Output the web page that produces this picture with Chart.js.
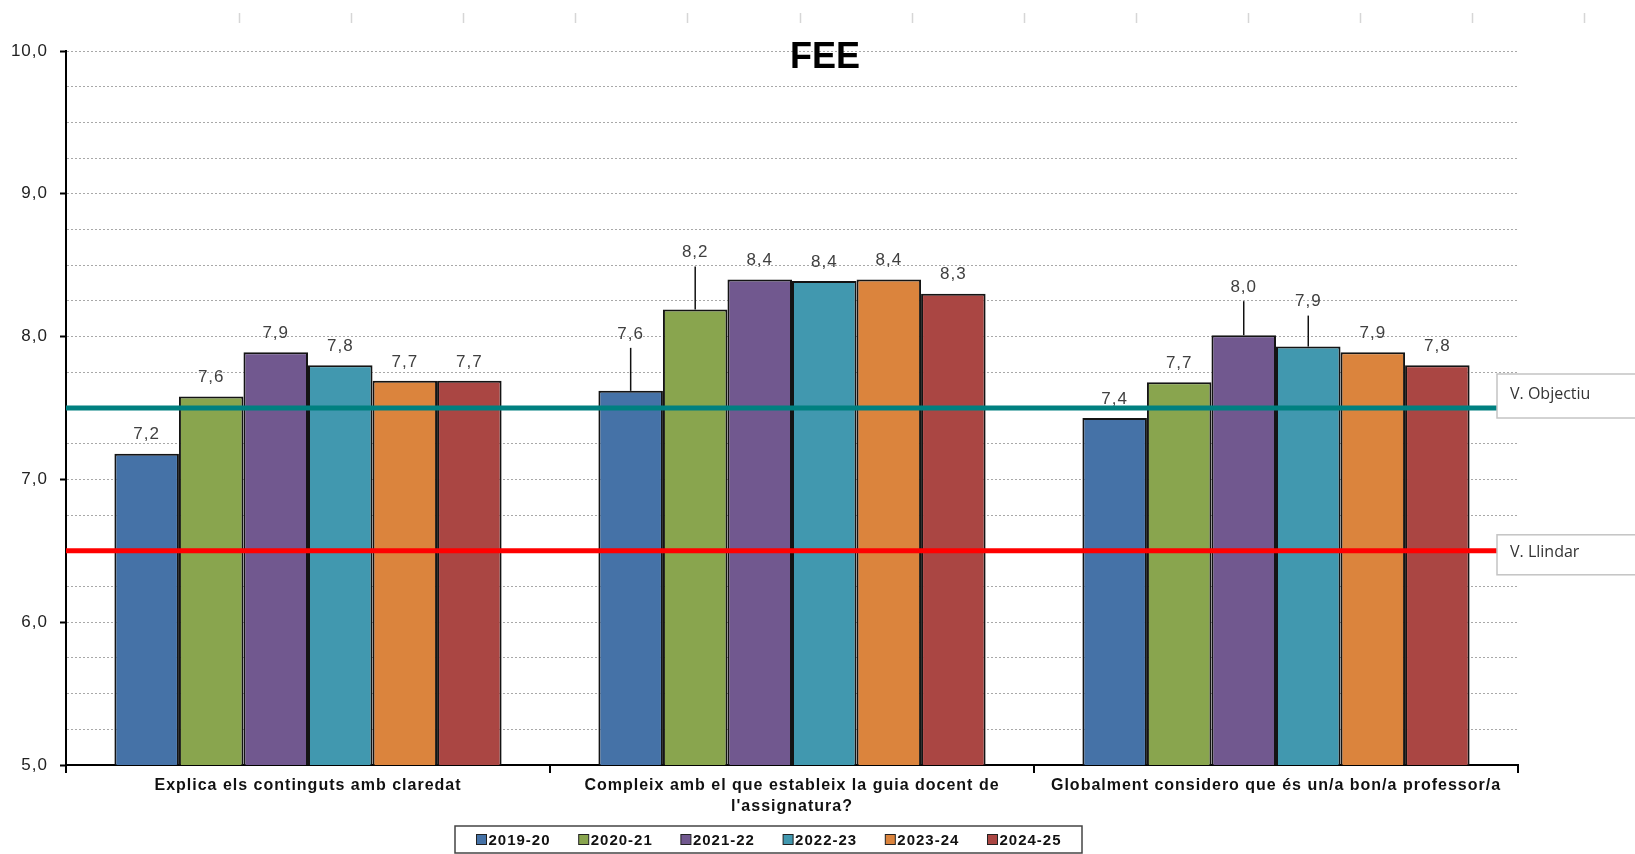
<!DOCTYPE html>
<html lang="ca">
<head>
<meta charset="utf-8">
<title>FEE</title>
<script src="https://cdn.jsdelivr.net/npm/chart.js@4.4.1/dist/chart.umd.min.js"></script>
<style>
  html, body { margin: 0; padding: 0; background: #fff; }
  #wrap { position: relative; width: 1635px; height: 854px; }
</style>
</head>
<body>
<div id="wrap"><canvas id="feeChart"></canvas></div>
<script>
// Data
const categories = [
  'Explica els continguts amb claredat',
  ['Compleix amb el que estableix la guia docent de', "l'assignatura?"],
  'Globalment considero que és un/a bon/a professor/a'
];
const seasons = ['2019-20', '2020-21', '2021-22', '2022-23', '2023-24', '2024-25'];
const values2019 = [7.18, 7.62, 7.43];
const values2020 = [7.58, 8.19, 7.68];
const values2021 = [7.89, 8.40, 8.01];
const values2022 = [7.80, 8.39, 7.93];
const values2023 = [7.69, 8.40, 7.89];
const values2024 = [7.69, 8.30, 7.80];
const seasonColors = ['#4572A7', '#89A54E', '#71588F', '#4198AF', '#DB843D', '#AA4643'];

const refNames = ['V. Objectiu', 'V. Llindar'];
const refValues = [7.5, 6.5];
const refColors = ['#008080', '#FF0000'];

const yMin = 5;
const yMax = 10;

const FONT = '"Liberation Sans", Arial, sans-serif';

function formatValue(v) {
  return v.toFixed(1).replace('.', ',');
}

// Labels lifted above the bar with a leader line (dataset-index: lift in px)
const leaderLifts = { '0-1': 57, '1-1': 57, '2-2': 48, '3-2': 45 };

const decorPlugin = {
  id: 'decor',
  beforeDraw(chart) {
    const ctx = chart.ctx;
    ctx.letterSpacing = '1px';
    // faint spreadsheet column marks along the top
    ctx.save();
    ctx.strokeStyle = '#d6d6d6';
    ctx.lineWidth = 1.5;
    for (let x = 239; x < chart.width; x += 112.1) {
      ctx.beginPath();
      ctx.moveTo(Math.round(x) + 0.5, 13);
      ctx.lineTo(Math.round(x) + 0.5, 23);
      ctx.stroke();
    }
    ctx.restore();
  },
  afterDatasetsDraw(chart) {
    const ctx = chart.ctx;
    const area = chart.chartArea;
    const yScale = chart.scales.y;

    // value labels
    ctx.save();
    ctx.font = '17px ' + FONT;
    ctx.fillStyle = '#404040';
    ctx.textAlign = 'center';
    ctx.textBaseline = 'middle';
    chart.data.datasets.forEach((ds, di) => {
      const meta = chart.getDatasetMeta(di);
      meta.data.forEach((bar, i) => {
        const lift = leaderLifts[di + '-' + i];
        if (lift) {
          const ty = bar.y - lift;
          ctx.strokeStyle = '#111';
          ctx.lineWidth = 1.5;
          ctx.beginPath();
          ctx.moveTo(bar.x, ty + 14);
          ctx.lineTo(bar.x, bar.y);
          ctx.stroke();
          ctx.fillText(formatValue(ds.data[i]), bar.x, ty);
        } else {
          ctx.fillText(formatValue(ds.data[i]), bar.x, bar.y - 19);
        }
      });
    });
    ctx.restore();

    // reference lines and their boxes
    const boxLeft = area.right - 21;
    const boxShift = [-34, -16];
    const boxHeight = [44, 40];
    ctx.save();
    refValues.forEach((v, k) => {
      const y = yScale.getPixelForValue(v);
      ctx.strokeStyle = refColors[k];
      ctx.lineWidth = 5;
      ctx.beginPath();
      ctx.moveTo(area.left, y);
      ctx.lineTo(boxLeft, y);
      ctx.stroke();

      const top = y + boxShift[k];
      ctx.fillStyle = '#fff';
      ctx.fillRect(boxLeft, top, 200, boxHeight[k]);
      ctx.strokeStyle = '#c4c4c4';
      ctx.lineWidth = 1.5;
      ctx.strokeRect(boxLeft, top, 200, boxHeight[k]);
      ctx.letterSpacing = '0px';
      ctx.font = '16px "Open Sans", "Noto Sans", sans-serif';
      ctx.fillStyle = '#333';
      ctx.textAlign = 'left';
      ctx.textBaseline = 'middle';
      ctx.fillText(refNames[k], boxLeft + 13, top + boxHeight[k] / 2 - 2);
    });
    ctx.restore();
  },
  afterDraw(chart) {
    const ctx = chart.ctx;
    // title
    ctx.save();
    ctx.letterSpacing = '0px';
    ctx.font = 'bold 36px ' + FONT;
    ctx.fillStyle = '#000';
    ctx.textAlign = 'center';
    ctx.textBaseline = 'middle';
    ctx.fillText('FEE', 825, 58);
    ctx.restore();

    // legend
    const lg = { left: 455, top: 826, width: 627, height: 27, first: 476.5, step: 102.2 };
    const cy = lg.top + lg.height / 2;
    ctx.save();
    ctx.fillStyle = '#fff';
    ctx.fillRect(lg.left, lg.top, lg.width, lg.height);
    ctx.strokeStyle = '#444';
    ctx.lineWidth = 1.5;
    ctx.strokeRect(lg.left, lg.top, lg.width, lg.height);
    ctx.font = 'bold 15px ' + FONT;
    ctx.textAlign = 'left';
    ctx.textBaseline = 'middle';
    ctx.letterSpacing = '1px';
    chart.data.datasets.forEach((ds, i) => {
      const x = lg.first + i * lg.step;
      ctx.fillStyle = ds.backgroundColor;
      ctx.fillRect(x, cy - 5, 10, 10);
      ctx.strokeStyle = '#222';
      ctx.lineWidth = 1;
      ctx.strokeRect(x, cy - 5, 10, 10);
      ctx.fillStyle = '#111';
      ctx.fillText(ds.label, x + 12, cy + 1);
    });
    ctx.restore();
  }
};

const seriesValues = [values2019, values2020, values2021, values2022, values2023, values2024];

const ctx = document.getElementById('feeChart').getContext('2d');
new Chart(ctx, {
  type: 'bar',
  data: {
    labels: categories,
    datasets: seasons.map((s, i) => ({
      label: s,
      data: seriesValues[i],
      backgroundColor: seasonColors[i],
      borderColor: '#141414',
      borderWidth: 2,
      categoryPercentage: 0.8,
      barPercentage: 1.0
    }))
  },
  options: {
    responsive: true,
    maintainAspectRatio: false,
    animation: false,
    layout: {
      padding: { top: 51, right: 117, bottom: 0, left: 0 }
    },
    plugins: {
      legend: { display: false },
      title: { display: false },
      tooltip: { enabled: false }
    },
    scales: {
      x: {
        grid: {
          display: true,
          drawOnChartArea: false,
          color: '#000',
          lineWidth: 2,
          tickLength: 8
        },
        border: { color: '#000', width: 2 },
        ticks: {
          color: '#111',
          padding: 2,
          maxRotation: 0,
          autoSkip: false,
          font: { family: FONT, size: 16, weight: 'bold', lineHeight: 1.3 }
        },
        afterFit(scale) { scale.height = 89; }
      },
      y: {
        min: yMin,
        max: yMax,
        grid: {
          color: '#a8a8a8',
          lineWidth: 1,
          tickLength: 6,
          tickWidth: 2,
          tickColor: c => Number.isInteger(c.tick.value) ? '#000' : 'rgba(0,0,0,0)'
        },
        border: { color: '#000', width: 2, dash: [2, 2] },
        ticks: {
          stepSize: 0.25,
          maxTicksLimit: 40,
          autoSkip: false,
          padding: 12,
          color: '#222',
          font: { family: FONT, size: 17 },
          callback: v => Number.isInteger(v) ? formatValue(v) : ''
        },
        afterFit(scale) { scale.width = 66; }
      }
    }
  },
  plugins: [decorPlugin]
});
</script>
</body>
</html>
